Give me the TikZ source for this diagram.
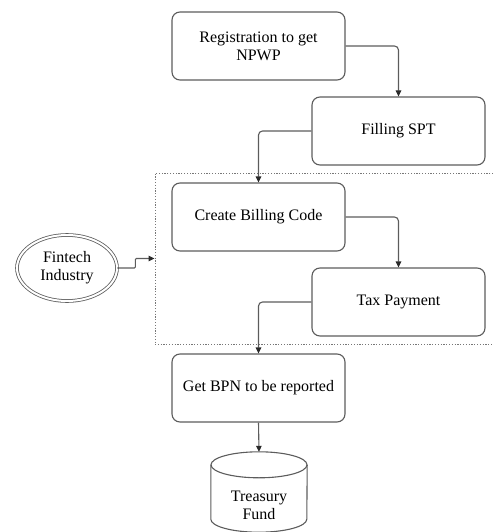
\documentclass[tikz,border=0pt]{standalone}
\usepackage{fontspec}
\setmainfont{Liberation Serif}
\usetikzlibrary{arrows.meta,calc,shapes.geometric}
\definecolor{edgegray}{HTML}{5C5C5C}
\definecolor{dotgray}{HTML}{777777}
\definecolor{tipgray}{HTML}{2A2A2A}
\begin{document}
\begin{tikzpicture}[x=1pt,y=-1pt,
  txt/.style={align=center, font=\fontsize{16}{18}\selectfont, inner sep=0pt},
  stepbox/.style={txt, draw=edgegray, line width=1.1pt, rounded corners=8pt,
    minimum width=173pt, minimum height=68pt},
  flow/.style={draw=edgegray, line width=1.1pt, rounded corners=4pt,
    -{Triangle[length=6pt,width=5.5pt,color=tipgray]}},
  groupbox/.style={draw=dotgray, line width=1pt, dash pattern=on 1.2pt off 1.6pt,
    minimum width=365pt, minimum height=171pt, inner sep=0pt},
  actor/.style={txt, ellipse, draw=edgegray, line width=0.8pt, double=white,
    double distance=2pt, minimum width=100pt, minimum height=66pt},
  store/.style={draw=edgegray, line width=1.1pt}
]
\useasboundingbox (0,0) rectangle (493,532);

% process steps
\node[stepbox] (reg)  at (258.5,46)  {Registration to get\\NPWP};
\node[stepbox] (spt)  at (398.5,131) {Filling SPT};
\node[stepbox] (bill) at (258.5,217) {Create Billing Code};
\node[stepbox] (pay)  at (398.5,302) {Tax Payment};
\node[stepbox] (bpn)  at (258.5,388) {Get BPN to be reported};

% dotted group around billing and payment
\node[groupbox] (grp) at (337.5,258.5) {};

% external actor
\node[actor] (fin) at (67,268) {Fintech\\Industry};

% treasury fund store (cylinder)
\node[minimum width=96pt, minimum height=80pt, inner sep=0pt] (fund) at (259,492) {};
\draw[store] ($(fund.north)+(0,13)$) ellipse [x radius=48pt, y radius=13pt];
\draw[store] ($(fund.north west)+(0,13)$) -- ($(fund.south west)+(0,-13)$)
  arc [start angle=180, end angle=360, x radius=48pt, y radius=13pt]
  -- ($(fund.north east)+(0,13)$);
\node[txt] (fundtxt) at ($(fund.center)+(0,13)$) {Treasury\\Fund};

% connectors
\draw[flow] (reg.east) -| (spt.north);
\draw[flow] (spt.west) -| (bill.north);
\draw[flow] (bill.east) -| (pay.north);
\draw[flow] (pay.west) -| (bpn.north);
\draw[flow] (bpn.south) -- (fund.north);
\draw[flow, rounded corners=1pt] (fin.east) -- ++(18,0) |- (grp.west);
\end{tikzpicture}
\end{document}
